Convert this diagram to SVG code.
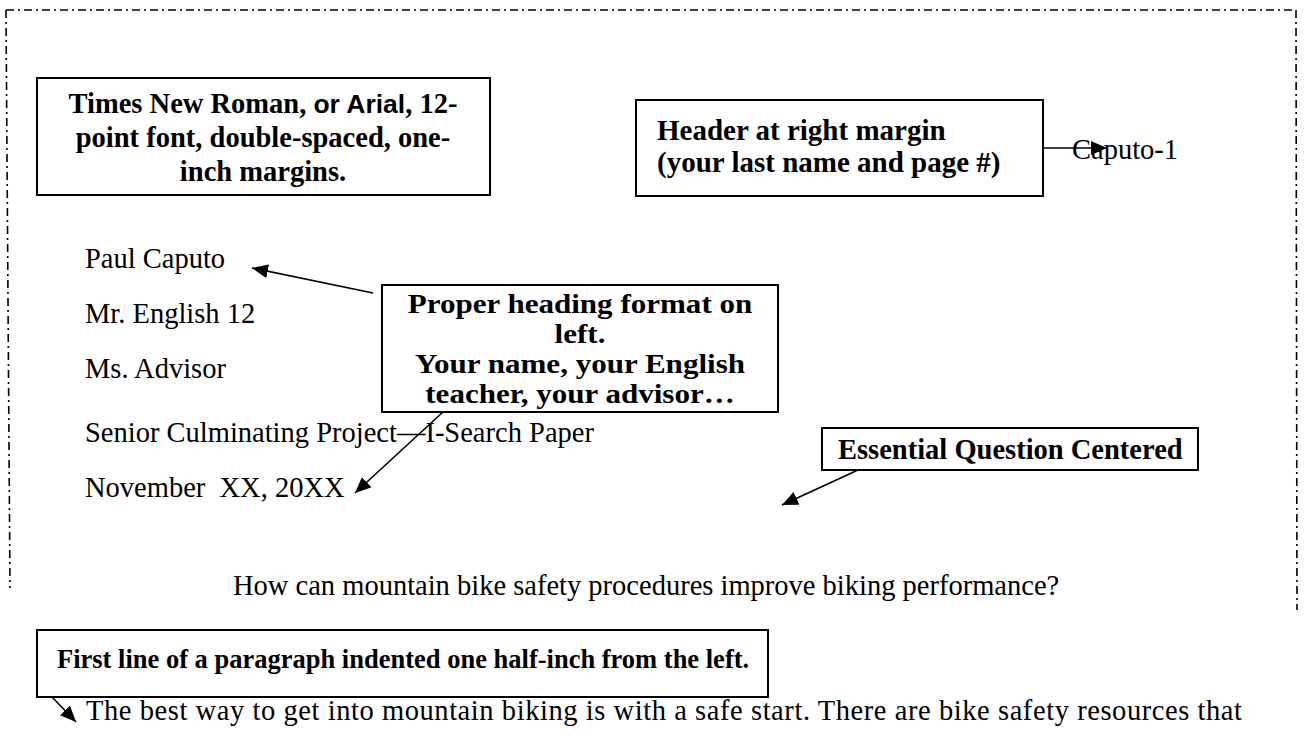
<svg xmlns="http://www.w3.org/2000/svg" width="1304" height="750" viewBox="0 0 1304 750">
<defs>
<style>
.box{fill:#fff;stroke:#000;stroke-width:2}
.bt{font-family:"Liberation Serif","Times New Roman",serif;font-weight:bold;fill:#000}
.ba{font-family:"Liberation Sans",Arial,sans-serif;font-weight:bold}
.body{font-family:"Liberation Serif","Times New Roman",serif;font-size:28.5px;fill:#000}
.conn{stroke:#000;stroke-width:1.6;fill:none}
.border{stroke:#000;stroke-width:1.6;fill:none;stroke-dasharray:8 4 2 4}
</style>
<marker id="ah" markerUnits="userSpaceOnUse" markerWidth="18" markerHeight="14" refX="16" refY="7" orient="auto">
<path d="M0,0 L16,7 L0,14 Z" fill="#000"/>
</marker>
</defs>
<rect width="1304" height="750" fill="#fff"/>
<g id="page-border">
<path class="border" d="M6,10 L1296,10 M6,10 L10,588 M1296,10 L1297,610"/>
</g>
<g id="body-text">
<text class="body" x="1072" y="159">Caputo-1</text>
<text class="body" x="85" y="268">Paul Caputo</text>
<text class="body" x="85" y="323">Mr. English 12</text>
<text class="body" x="85" y="378">Ms. Advisor</text>
<text class="body" x="85" y="442">Senior Culminating Project—I-Search Paper</text>
<text class="body" x="85" y="497" xml:space="preserve">November  XX, 20XX</text>
<text class="body" x="233" y="595">How can mountain bike safety procedures improve biking performance?</text>
<text class="body" x="86" y="720" textLength="1156" lengthAdjust="spacing">The best way to get into mountain biking is with a safe start. There are bike safety resources that</text>
</g>
<g id="connectors">
<line class="conn" x1="1043" y1="148" x2="1107" y2="148" marker-end="url(#ah)"/>
<line class="conn" x1="373" y1="293" x2="252" y2="268" marker-end="url(#ah)"/>
<line class="conn" x1="443" y1="412" x2="355" y2="493" marker-end="url(#ah)"/>
<line class="conn" x1="858" y1="470" x2="782" y2="505" marker-end="url(#ah)"/>
<line class="conn" x1="52" y1="697" x2="76" y2="722" marker-end="url(#ah)"/>
</g>
<g id="font-note">
<rect class="box" x="37" y="78" width="453" height="117"/>
<text class="bt" font-size="28.5" text-anchor="middle"><tspan x="263" y="113">Times New Roman, <tspan class="ba" font-size="26.5">or Arial</tspan>, 12-</tspan><tspan x="263" y="147">point font, double-spaced, one-</tspan><tspan x="263" y="181">inch margins.</tspan></text>
</g>
<g id="header-note">
<rect class="box" x="636" y="100" width="407" height="96"/>
<text class="bt" font-size="29"><tspan x="657" y="140">Header at right margin</tspan><tspan x="657" y="172">(your last name and page #)</tspan></text>
</g>
<g id="heading-note">
<rect class="box" x="382" y="285" width="396" height="127"/>
<text class="bt" font-size="27" text-anchor="middle" transform="translate(580,0) scale(1.15,1)"><tspan x="0" y="313">Proper heading format on</tspan><tspan x="0" y="343">left.</tspan><tspan x="0" y="373">Your name, your English</tspan><tspan x="0" y="403">teacher, your advisor…</tspan></text>
</g>
<g id="question-note">
<rect class="box" x="822" y="428" width="376" height="42"/>
<text class="bt" font-size="28.5" x="838" y="459">Essential Question Centered</text>
</g>
<g id="indent-note">
<rect class="box" x="37" y="630" width="731" height="67"/>
<text class="bt" font-size="26.5" x="57" y="668">First line of a paragraph indented one half-inch from the left.</text>
</g>
</svg>
